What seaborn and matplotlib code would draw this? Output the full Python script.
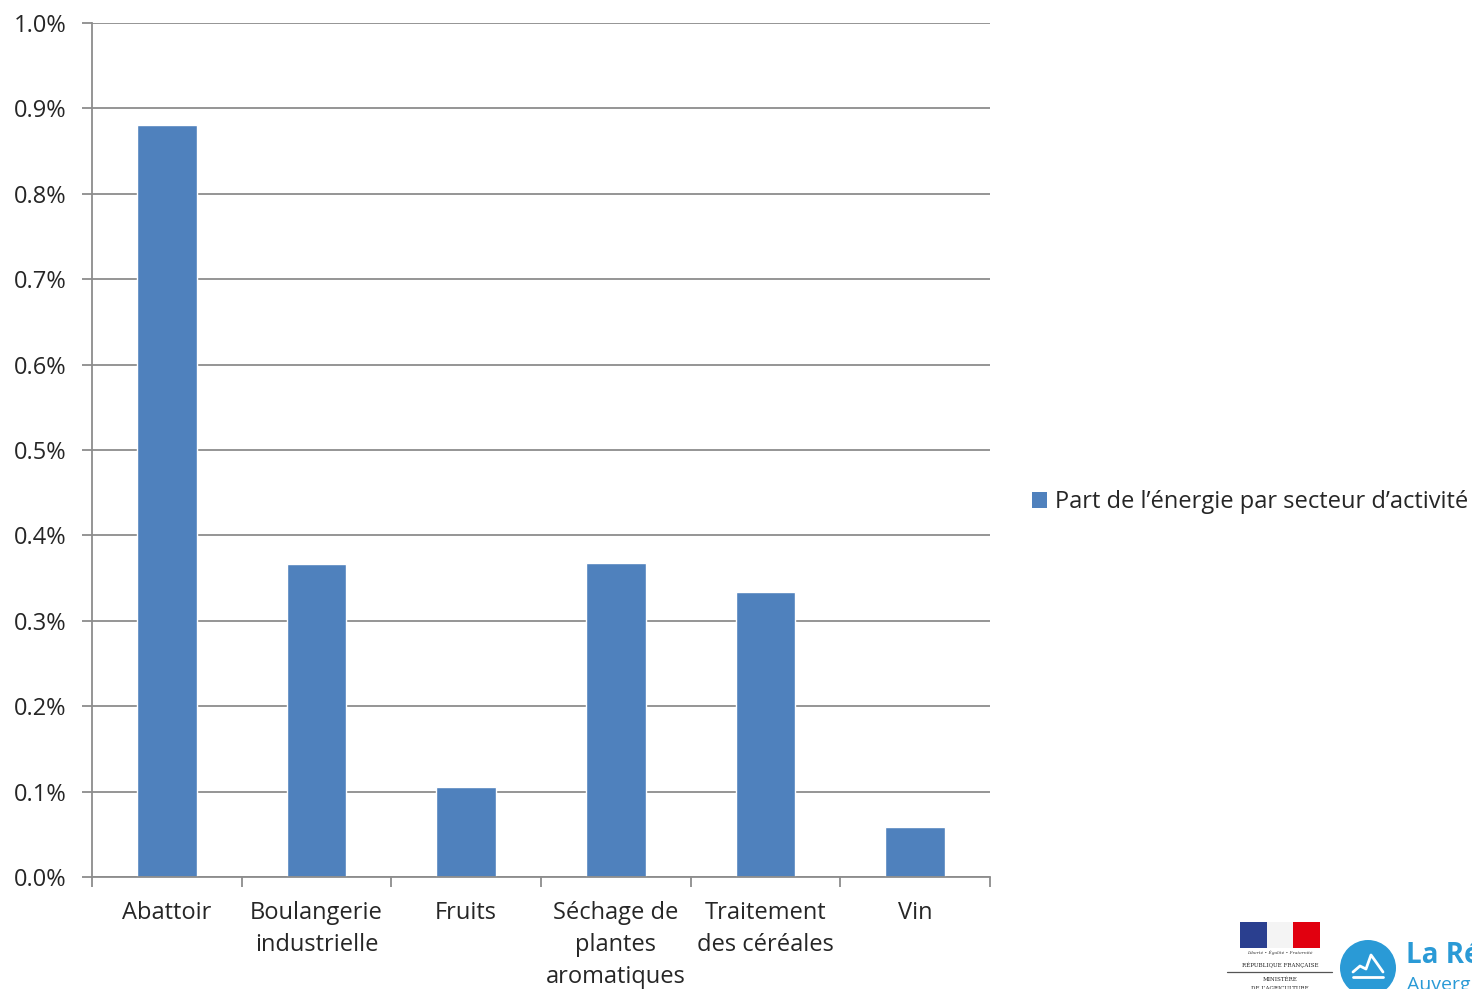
import matplotlib
matplotlib.use("Agg")
import matplotlib.pyplot as plt
from matplotlib.patches import Rectangle, Ellipse
from matplotlib.ticker import FuncFormatter, FixedLocator
import seaborn as sns
import pandas as pd

# Share of energy by activity sector (percent)
secteurs = ["Abattoir", "Boulangerie\nindustrielle", "Fruits",
            "Séchage de\nplantes\naromatiques", "Traitement\ndes céréales", "Vin"]
part_energie = [0.881, 0.367, 0.105, 0.368, 0.334, 0.059]
serie = "Part de l\u2019énergie par secteur d\u2019activité"
y_ticks = [0.0, 0.1, 0.2, 0.3, 0.4, 0.5, 0.6, 0.7, 0.8, 0.9, 1.0]

sns.set_theme(style="white")
plt.rcParams["font.family"] = ["Open Sans", "DejaVu Sans"]

df = pd.DataFrame({"secteur": secteurs, "part": part_energie, "serie": serie})

W, H = 1472, 989
fig = plt.figure(figsize=(W / 100, H / 100), dpi=100)
ax = fig.add_axes([0.0625, 0.1132, 0.6101, 0.8635])

bar_color = "#4F81BD"
sns.barplot(data=df, x="secteur", y="part", hue="serie", palette=[bar_color],
            width=0.4, ax=ax, legend=False, saturation=1)

grid_color = "#8C8C8C"
text_color = "#262626"
ax.set_ylim(0, 1.0)
ax.set_xlim(-0.5, len(secteurs) - 0.5)
ax.set_yticks(y_ticks)
ax.yaxis.set_major_formatter(FuncFormatter(lambda v, p: f"{v:.1f}%"))
ax.yaxis.grid(True, color=grid_color, linewidth=1.3)
ax.set_axisbelow(True)
ax.set_xlabel("")
ax.set_ylabel("")

for side in ["top", "right"]:
    ax.spines[side].set_visible(False)
for side in ["left", "bottom"]:
    ax.spines[side].set_color(grid_color)
    ax.spines[side].set_linewidth(1.3)

ax.tick_params(axis="y", which="major", left=True, length=7.2, width=1.3,
               color=grid_color, labelsize=17, labelcolor=text_color, pad=11)
ax.tick_params(axis="x", which="major", bottom=False, labelsize=17,
               labelcolor=text_color, pad=11)
ax.xaxis.set_minor_locator(FixedLocator([i - 0.5 for i in range(len(secteurs) + 1)]))
ax.tick_params(axis="x", which="minor", bottom=True, length=7, width=1.3,
               color=grid_color)
for lab in ax.get_xticklabels():
    lab.set_linespacing(1.45)

# Series legend on the right
handle = Rectangle((0, 0), 1, 1, facecolor=bar_color, edgecolor="none")
fig.legend([handle], [serie], loc="center left", bbox_to_anchor=(0.701, 0.4924),
           frameon=False, fontsize=17, handlelength=0.64, handleheight=0.64,
           handletextpad=0.34, borderpad=0, borderaxespad=0, labelcolor=text_color)

# Logos in the bottom-right corner
def fx(px):
    return px / W


def fy(py):
    return 1 - py / H


for x0, x1, col in [(1240, 1267, "#2A3F8F"), (1267, 1293, "#F4F4F4"), (1293, 1320, "#E1000F")]:
    fig.patches.append(Rectangle((fx(x0), fy(948)), fx(x1) - fx(x0), fy(922) - fy(948),
                                 transform=fig.transFigure, facecolor=col, edgecolor="none"))
fig.text(fx(1280), fy(953), "Liberté • Égalité • Fraternité", fontsize=3.2, ha="center",
         va="center", style="italic", family="DejaVu Serif", color="#333333")
fig.text(fx(1280), fy(965), "RÉPUBLIQUE FRANÇAISE", fontsize=4, ha="center",
         va="center", family="DejaVu Serif", color="#222222")
fig.add_artist(plt.Line2D([fx(1227), fx(1332)], [fy(972), fy(972)], transform=fig.transFigure,
                          color="#555555", linewidth=0.9))
fig.text(fx(1280), fy(979), "MINISTÈRE", fontsize=4, ha="center", va="center",
         family="DejaVu Serif", color="#222222")
fig.text(fx(1280), fy(988), "DE L\u2019AGRICULTURE", fontsize=4, ha="center", va="center",
         family="DejaVu Serif", color="#222222")

fig.patches.append(Ellipse((fx(1368), fy(968)), 56 / W, 56 / H, transform=fig.transFigure,
                           facecolor="#2A9AD6", edgecolor="none"))
fig.add_artist(plt.Line2D([fx(1353), fx(1360), fx(1366), fx(1371), fx(1376), fx(1383)],
                          [fy(972), fy(966), fy(969), fy(955), fy(962), fy(972)],
                          transform=fig.transFigure, color="white", linewidth=2))
fig.add_artist(plt.Line2D([fx(1353), fx(1383)], [fy(977), fy(977)],
                          transform=fig.transFigure, color="white", linewidth=2))
fig.text(fx(1406), fy(963), "La Région", fontsize=20, fontweight="bold", color="#2A9AD6",
         ha="left", va="baseline")
fig.text(fx(1407), fy(976), "Auvergne", fontsize=14, color="#2A9AD6", ha="left", va="top")

fig.savefig("out.png", dpi=100, facecolor="white")
